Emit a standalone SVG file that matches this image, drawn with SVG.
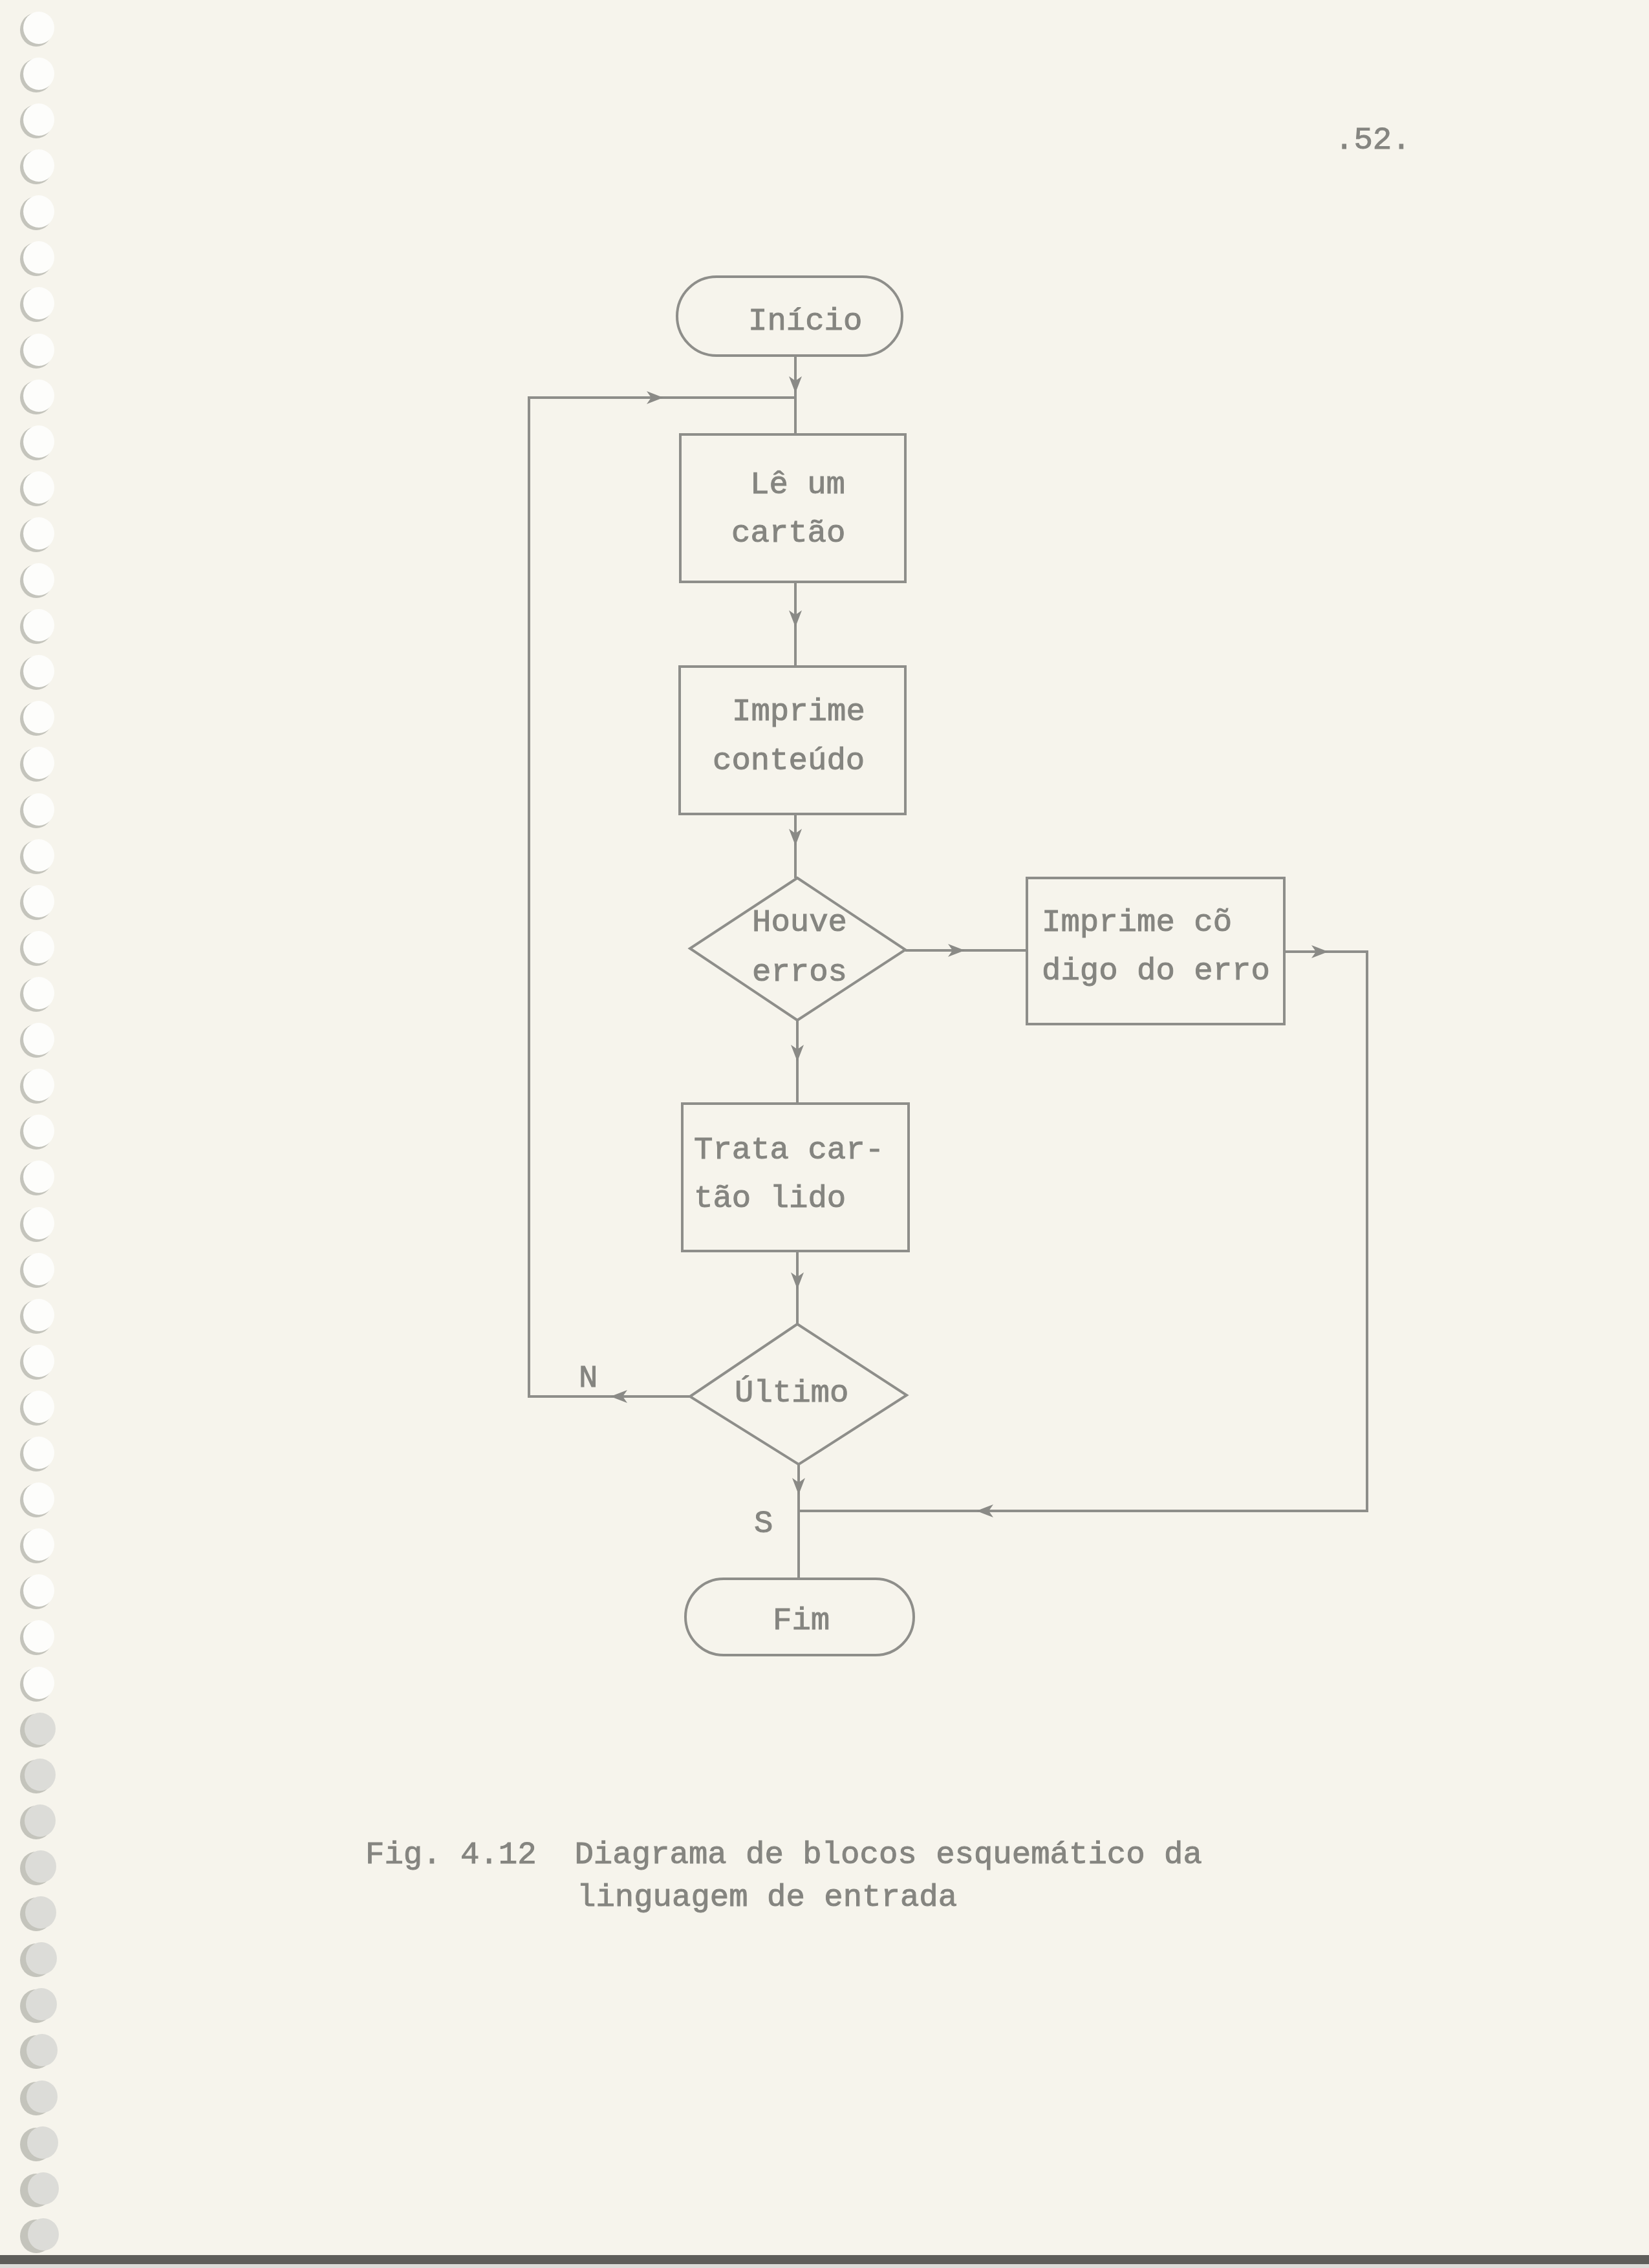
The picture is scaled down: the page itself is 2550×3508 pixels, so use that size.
<svg xmlns="http://www.w3.org/2000/svg" width="2550" height="3508" viewBox="0 0 2550 3508">
<style>
.bg{fill:#f6f4ec}
.shape{fill:none;stroke:#8e8e8a;stroke-width:4}
.line{fill:none;stroke:#8e8e8a;stroke-width:4}
.tip{fill:none;stroke:#8e8e8a;stroke-width:4;marker-end:url(#arr)}
.t{font-family:"Liberation Mono","Courier New",monospace;font-size:49px;fill:#858580;stroke:#858580;stroke-width:1}
.hole{fill:#fdfdfb}
.holeg{fill:#dcdcd8}
.shadow{fill:#c4c4bc}
</style>
<defs>
<marker id="arr" markerUnits="userSpaceOnUse" markerWidth="28" markerHeight="24" refX="26" refY="12" orient="auto">
<path d="M0,2 L26,12 L0,22 L7,12 Z" fill="#8a8a86"/>
</marker>
</defs>
<rect class="bg" x="0" y="0" width="2550" height="3508"/>
<g id="binding">
<g id="holes-shadow">
<ellipse class="shadow" cx="56" cy="46" rx="25" ry="26"/><ellipse class="shadow" cx="56" cy="117" rx="25" ry="26"/><ellipse class="shadow" cx="56" cy="188" rx="25" ry="26"/><ellipse class="shadow" cx="56" cy="259" rx="25" ry="26"/><ellipse class="shadow" cx="56" cy="330" rx="25" ry="26"/><ellipse class="shadow" cx="56" cy="401" rx="25" ry="26"/><ellipse class="shadow" cx="56" cy="472" rx="25" ry="26"/><ellipse class="shadow" cx="56" cy="544" rx="25" ry="26"/><ellipse class="shadow" cx="56" cy="615" rx="25" ry="26"/><ellipse class="shadow" cx="56" cy="686" rx="25" ry="26"/><ellipse class="shadow" cx="56" cy="757" rx="25" ry="26"/><ellipse class="shadow" cx="56" cy="828" rx="25" ry="26"/><ellipse class="shadow" cx="56" cy="899" rx="25" ry="26"/><ellipse class="shadow" cx="56" cy="970" rx="25" ry="26"/><ellipse class="shadow" cx="56" cy="1041" rx="25" ry="26"/><ellipse class="shadow" cx="56" cy="1112" rx="25" ry="26"/><ellipse class="shadow" cx="56" cy="1183" rx="25" ry="26"/><ellipse class="shadow" cx="56" cy="1255" rx="25" ry="26"/><ellipse class="shadow" cx="56" cy="1326" rx="25" ry="26"/><ellipse class="shadow" cx="56" cy="1397" rx="25" ry="26"/><ellipse class="shadow" cx="56" cy="1468" rx="25" ry="26"/><ellipse class="shadow" cx="56" cy="1539" rx="25" ry="26"/><ellipse class="shadow" cx="56" cy="1610" rx="25" ry="26"/><ellipse class="shadow" cx="56" cy="1681" rx="25" ry="26"/><ellipse class="shadow" cx="56" cy="1752" rx="25" ry="26"/><ellipse class="shadow" cx="56" cy="1823" rx="25" ry="26"/><ellipse class="shadow" cx="56" cy="1895" rx="25" ry="26"/><ellipse class="shadow" cx="56" cy="1966" rx="25" ry="26"/><ellipse class="shadow" cx="56" cy="2037" rx="25" ry="26"/><ellipse class="shadow" cx="56" cy="2108" rx="25" ry="26"/><ellipse class="shadow" cx="56" cy="2179" rx="25" ry="26"/><ellipse class="shadow" cx="56" cy="2250" rx="25" ry="26"/><ellipse class="shadow" cx="56" cy="2321" rx="25" ry="26"/><ellipse class="shadow" cx="56" cy="2392" rx="25" ry="26"/><ellipse class="shadow" cx="56" cy="2463" rx="25" ry="26"/><ellipse class="shadow" cx="56" cy="2534" rx="25" ry="26"/><ellipse class="shadow" cx="56" cy="2606" rx="25" ry="26"/><ellipse class="shadow" cx="56" cy="2677" rx="25" ry="26"/><ellipse class="shadow" cx="56" cy="2748" rx="25" ry="26"/><ellipse class="shadow" cx="56" cy="2819" rx="25" ry="26"/><ellipse class="shadow" cx="56" cy="2890" rx="25" ry="26"/><ellipse class="shadow" cx="56" cy="2961" rx="25" ry="26"/><ellipse class="shadow" cx="56" cy="3032" rx="25" ry="26"/><ellipse class="shadow" cx="56" cy="3103" rx="25" ry="26"/><ellipse class="shadow" cx="56" cy="3174" rx="25" ry="26"/><ellipse class="shadow" cx="56" cy="3246" rx="25" ry="26"/><ellipse class="shadow" cx="56" cy="3317" rx="25" ry="26"/><ellipse class="shadow" cx="56" cy="3388" rx="25" ry="26"/><ellipse class="shadow" cx="56" cy="3459" rx="25" ry="26"/>
</g>
<g id="holes">
<ellipse class="hole" cx="60" cy="43" rx="24" ry="25"/><ellipse class="hole" cx="60" cy="114" rx="24" ry="25"/><ellipse class="hole" cx="60" cy="185" rx="24" ry="25"/><ellipse class="hole" cx="60" cy="256" rx="24" ry="25"/><ellipse class="hole" cx="60" cy="327" rx="24" ry="25"/><ellipse class="hole" cx="60" cy="398" rx="24" ry="25"/><ellipse class="hole" cx="60" cy="469" rx="24" ry="25"/><ellipse class="hole" cx="60" cy="541" rx="24" ry="25"/><ellipse class="hole" cx="60" cy="612" rx="24" ry="25"/><ellipse class="hole" cx="60" cy="683" rx="24" ry="25"/><ellipse class="hole" cx="60" cy="754" rx="24" ry="25"/><ellipse class="hole" cx="60" cy="825" rx="24" ry="25"/><ellipse class="hole" cx="60" cy="896" rx="24" ry="25"/><ellipse class="hole" cx="60" cy="967" rx="24" ry="25"/><ellipse class="hole" cx="60" cy="1038" rx="24" ry="25"/><ellipse class="hole" cx="60" cy="1109" rx="24" ry="25"/><ellipse class="hole" cx="60" cy="1180" rx="24" ry="25"/><ellipse class="hole" cx="60" cy="1252" rx="24" ry="25"/><ellipse class="hole" cx="60" cy="1323" rx="24" ry="25"/><ellipse class="hole" cx="60" cy="1394" rx="24" ry="25"/><ellipse class="hole" cx="60" cy="1465" rx="24" ry="25"/><ellipse class="hole" cx="60" cy="1536" rx="24" ry="25"/><ellipse class="hole" cx="60" cy="1607" rx="24" ry="25"/><ellipse class="hole" cx="60" cy="1678" rx="24" ry="25"/><ellipse class="hole" cx="60" cy="1749" rx="24" ry="25"/><ellipse class="hole" cx="60" cy="1820" rx="24" ry="25"/><ellipse class="hole" cx="60" cy="1892" rx="24" ry="25"/><ellipse class="hole" cx="60" cy="1963" rx="24" ry="25"/><ellipse class="hole" cx="60" cy="2034" rx="24" ry="25"/><ellipse class="hole" cx="60" cy="2105" rx="24" ry="25"/><ellipse class="hole" cx="60" cy="2176" rx="24" ry="25"/><ellipse class="hole" cx="60" cy="2247" rx="24" ry="25"/><ellipse class="hole" cx="60" cy="2318" rx="24" ry="25"/><ellipse class="hole" cx="60" cy="2389" rx="24" ry="25"/><ellipse class="hole" cx="60" cy="2460" rx="24" ry="25"/><ellipse class="hole" cx="60" cy="2531" rx="24" ry="25"/><ellipse class="hole" cx="60" cy="2603" rx="24" ry="25"/><ellipse class="holeg" cx="62" cy="2674" rx="24" ry="25"/><ellipse class="holeg" cx="62" cy="2745" rx="24" ry="25"/><ellipse class="holeg" cx="62" cy="2816" rx="24" ry="25"/><ellipse class="holeg" cx="63" cy="2887" rx="24" ry="25"/><ellipse class="holeg" cx="63" cy="2958" rx="24" ry="25"/><ellipse class="holeg" cx="64" cy="3029" rx="24" ry="25"/><ellipse class="holeg" cx="64" cy="3100" rx="24" ry="25"/><ellipse class="holeg" cx="65" cy="3171" rx="24" ry="25"/><ellipse class="holeg" cx="65" cy="3243" rx="24" ry="25"/><ellipse class="holeg" cx="66" cy="3314" rx="24" ry="25"/><ellipse class="holeg" cx="67" cy="3385" rx="24" ry="25"/><ellipse class="holeg" cx="67" cy="3456" rx="24" ry="25"/>
</g>
</g>
<rect id="bottom-edge" x="0" y="3488" width="2550" height="14" fill="#5e5e5a"/>
<rect x="0" y="3502" width="2550" height="6" fill="#dcdcd8"/>
<text class="t" x="2064" y="230">.52.</text>
<g id="connectors">
<path class="line" d="M1230,550 V672"/>
<path class="tip" d="M1230,590 V608"/>
<path class="line" d="M1067,2160 H818 V615 H1230"/>
<path class="tip" d="M962,2160 H944"/>
<path class="tip" d="M1008,615 H1026"/>
<path class="line" d="M1230,900 V1031"/>
<path class="tip" d="M1230,952 V970"/>
<path class="line" d="M1230,1259 V1358"/>
<path class="tip" d="M1230,1290 V1308"/>
<path class="line" d="M1400,1470 H1588"/>
<path class="tip" d="M1474,1470 H1492"/>
<path class="line" d="M1233,1578 V1707"/>
<path class="tip" d="M1233,1624 V1642"/>
<path class="line" d="M1986,1472 H2114 V2337 H1235"/>
<path class="tip" d="M2036,1472 H2054"/>
<path class="tip" d="M1528,2337 H1510"/>
<path class="line" d="M1233,1935 V2048"/>
<path class="tip" d="M1233,1976 V1994"/>
<path class="line" d="M1235,2265 V2442"/>
<path class="tip" d="M1235,2294 V2312"/>
<text class="t" x="895" y="2145">N</text>
<text class="t" x="1166" y="2370">S</text>
</g>
<g id="inicio">
<rect class="shape" x="1047" y="428" width="348" height="122" rx="61" ry="61"/>
<text class="t" x="1157" y="510">Início</text>
</g>
<g id="le-cartao">
<rect class="shape" x="1052" y="672" width="348" height="228"/>
<text class="t" x="1160" y="763">Lê um</text>
<text class="t" x="1131" y="838">cartão</text>
</g>
<g id="imprime-conteudo">
<rect class="shape" x="1051" y="1031" width="349" height="228"/>
<text class="t" x="1132" y="1114">Imprime</text>
<text class="t" x="1102" y="1190">conteúdo</text>
</g>
<g id="houve-erros">
<polygon class="shape" points="1233,1358 1400,1469 1233,1578 1067,1467"/>
<text class="t" x="1163" y="1440">Houve</text>
<text class="t" x="1163" y="1517">erros</text>
</g>
<g id="imprime-codigo">
<rect class="shape" x="1588" y="1358" width="398" height="226"/>
<text class="t" x="1611" y="1440">Imprime cõ</text>
<text class="t" x="1611" y="1515">digo do erro</text>
</g>
<g id="trata-cartao">
<rect class="shape" x="1055" y="1707" width="350" height="228"/>
<text class="t" x="1073" y="1792">Trata car-</text>
<text class="t" x="1073" y="1867">tão lido</text>
</g>
<g id="ultimo">
<polygon class="shape" points="1233,2048 1402,2158 1235,2265 1067,2160"/>
<text class="t" x="1136" y="2168">Último</text>
</g>
<g id="fim">
<rect class="shape" x="1060" y="2442" width="353" height="118" rx="59" ry="59"/>
<text class="t" x="1195" y="2520">Fim</text>
</g>
<g id="caption">
<text class="t" x="565" y="2882" xml:space="preserve">Fig. 4.12  Diagrama de blocos esquemático da</text>
<text class="t" x="892" y="2948">linguagem de entrada</text>
</g>
</svg>
